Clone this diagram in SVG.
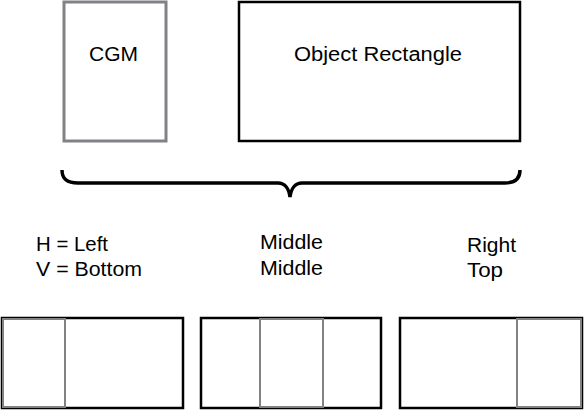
<svg xmlns="http://www.w3.org/2000/svg" width="584" height="411" viewBox="0 0 584 411">
<style>
.t{font-family:"Liberation Sans",Arial,sans-serif;font-size:19.5px;fill:#000}
.blk{fill:#fff;stroke:#000;stroke-width:2.5}
.gry{fill:#fff;stroke:#808285;stroke-width:3}
.gl{fill:none;stroke:#808285;stroke-width:2}
</style>
<rect width="584" height="411" fill="#fff"/>
<g id="cgm">
<rect class="gry" x="64" y="2" width="102" height="139"/>
<text class="t" x="89" y="61" textLength="49" lengthAdjust="spacingAndGlyphs">CGM</text>
</g>
<g id="object-rectangle">
<rect class="blk" x="239" y="2" width="281" height="139"/>
<text class="t" x="294" y="61" textLength="168" lengthAdjust="spacingAndGlyphs">Object Rectangle</text>
</g>
<g id="connectors">
<path d="M62,170 C62,178 66,183 78,183 L278,183 C285,183 289,189 290,197 C291,189 295,183 302,183 L505,183 C516,183 520,178 520,170" fill="none" stroke="#000" stroke-width="3.5"/>
</g>
<g id="label-left">
<text class="t" x="36" y="251" textLength="72" lengthAdjust="spacingAndGlyphs">H = Left</text>
<text class="t" x="36" y="276" textLength="106" lengthAdjust="spacingAndGlyphs">V = Bottom</text>
</g>
<g id="label-middle">
<text class="t" x="260" y="249" textLength="63" lengthAdjust="spacingAndGlyphs">Middle</text>
<text class="t" x="260" y="275" textLength="63" lengthAdjust="spacingAndGlyphs">Middle</text>
</g>
<g id="label-right">
<text class="t" x="467" y="252" textLength="49" lengthAdjust="spacingAndGlyphs">Right</text>
<text class="t" x="467" y="277" textLength="36" lengthAdjust="spacingAndGlyphs">Top</text>
</g>
<g id="box-left">
<rect class="blk" x="2" y="318" width="181" height="90"/>
<rect class="gl" x="3" y="319" width="62" height="88"/>
</g>
<g id="box-middle">
<rect class="blk" x="201" y="318" width="180" height="90"/>
<rect class="gl" x="260" y="319" width="63" height="88"/>
</g>
<g id="box-right">
<rect class="blk" x="400" y="318" width="182" height="90"/>
<rect class="gl" x="517" y="319" width="64" height="88"/>
</g>
</svg>
